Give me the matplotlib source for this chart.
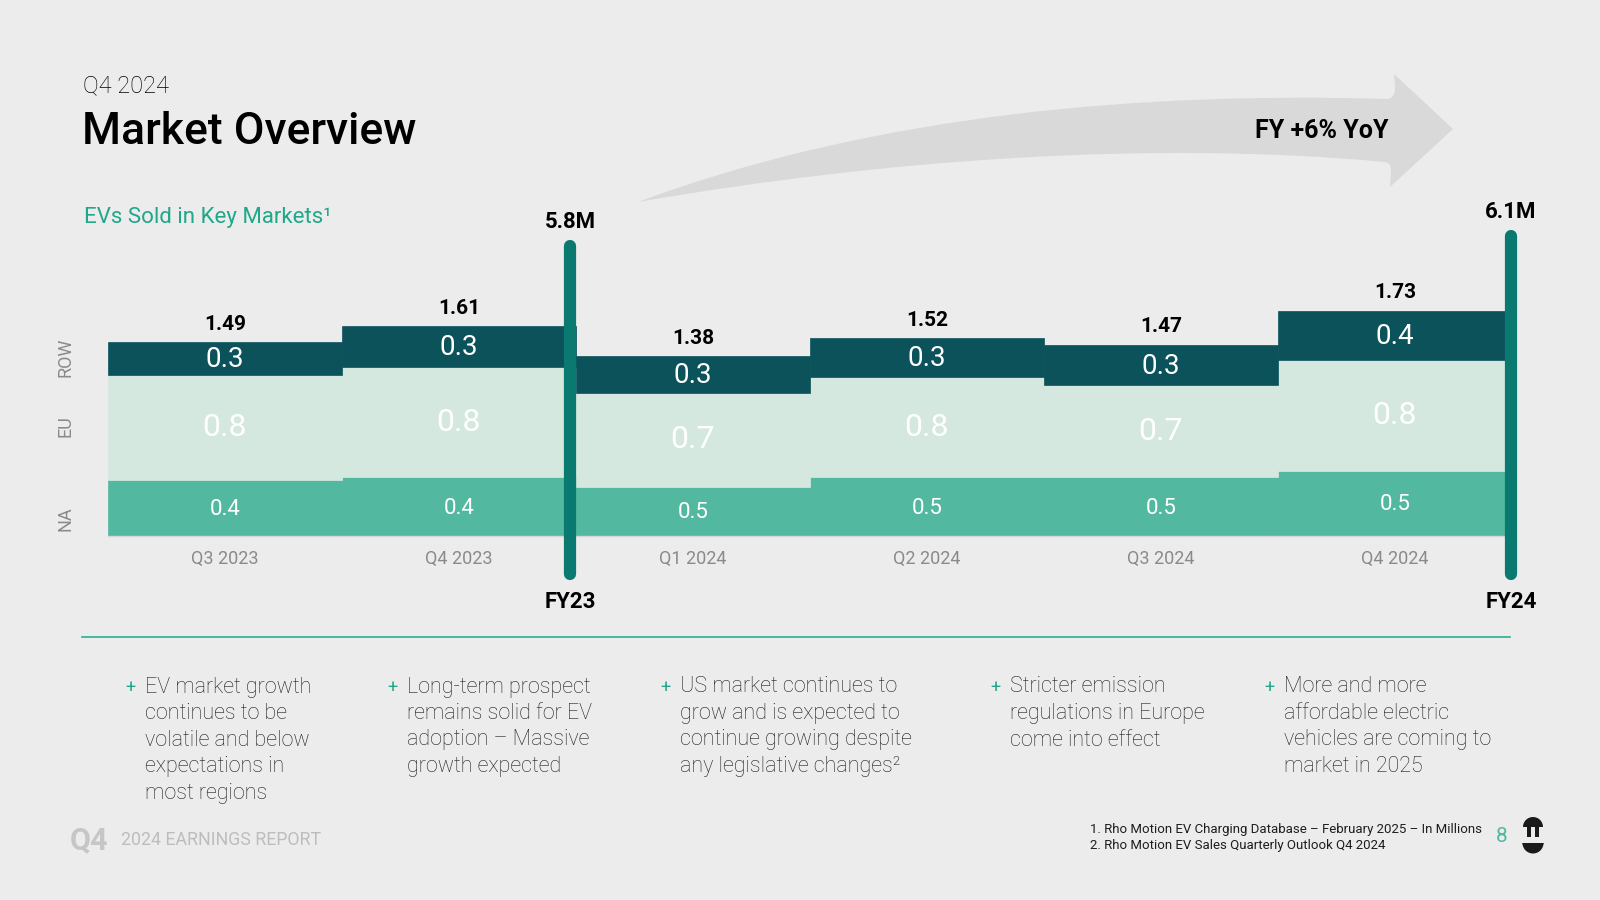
import matplotlib
matplotlib.use("Agg")
import matplotlib.pyplot as plt
import numpy as np
from matplotlib.path import Path
from matplotlib.patches import PathPatch, Wedge, Rectangle, Ellipse, Circle

# data (millions of EVs)
quarters = ["Q3 2023", "Q4 2023", "Q1 2024", "Q2 2024", "Q3 2024", "Q4 2024"]
na = [0.43, 0.45, 0.38, 0.45, 0.45, 0.50]
eu = [0.81, 0.85, 0.72, 0.77, 0.71, 0.85]
row = [0.25, 0.31, 0.28, 0.30, 0.31, 0.38]
na_labels = ["0.4", "0.4", "0.5", "0.5", "0.5", "0.5"]
eu_labels = ["0.8", "0.8", "0.7", "0.8", "0.7", "0.8"]
row_labels = ["0.3", "0.3", "0.3", "0.3", "0.3", "0.4"]
totals = ["1.49", "1.61", "1.38", "1.52", "1.47", "1.73"]
fy_names = ["FY23", "FY24"]
fy_totals = ["5.8M", "6.1M"]
fy_after = [2, 6]          # FY marker sits after this many quarters

bullets = [
    ["EV market growth", "continues to be", "volatile and below", "expectations in", "most regions"],
    ["Long-term prospect", "remains solid for EV", "adoption \u2013 Massive", "growth expected"],
    ["US market continues to", "grow and is expected to", "continue growing despite", "any legislative changes\u00b2"],
    ["Stricter emission", "regulations in Europe", "come into effect"],
    ["More and more", "affordable electric", "vehicles are coming to", "market in 2025"],
]
footnotes = ["1. Rho Motion EV Charging Database \u2013 February 2025 \u2013 In Millions",
             "2. Rho Motion EV Sales Quarterly Outlook Q4 2024"]

BG = "#ECECEC"
C_NA = "#52B9A0"
C_EU = "#D4E8DF"
C_ROW = "#0C525B"
C_FY = "#0A7A70"
TEAL = "#1FA88A"
INK = "#1A1A1A"

plt.rcParams["font.family"] = ["Roboto", "DejaVu Sans"]

W, H = 1600, 900
fig = plt.figure(figsize=(16, 9), dpi=100, facecolor=BG)


def fx(x):
    return x / W


def fy(y):
    return 1 - y / H


def ftext(x, y, s, **kw):
    fig.text(fx(x), fy(y), s, **kw)


def px(x, y):
    # pixel position (from top-left) -> inches for dpi_scale_trans
    return (x / 100, (H - y) / 100)


# curved arrow in the header
verts = [
    (638, 202),
    (880, 112), (1150, 92), (1388, 99),
    (1396, 98), (1395, 85),
    (1394, 74),
    (1453, 129),
    (1390, 187),
    (1391, 172),
    (1392, 163), (1385, 162),
    (1150, 140), (880, 160), (638, 202),
]
codes = [Path.MOVETO,
         Path.CURVE4, Path.CURVE4, Path.CURVE4,
         Path.CURVE3, Path.CURVE3,
         Path.LINETO, Path.LINETO, Path.LINETO, Path.LINETO,
         Path.CURVE3, Path.CURVE3,
         Path.CURVE4, Path.CURVE4, Path.CURVE4]
arrow = Path([(fx(a), fy(b)) for a, b in verts], codes)
fig.patches.append(PathPatch(arrow, transform=fig.transFigure, facecolor="#D9D9D9",
                             edgecolor="none", zorder=0))
ftext(1322, 131, "FY +6% YoY", fontsize=18, fontweight="bold", ha="center", va="center")

# header
ftext(83, 86, "Q4 2024", fontsize=17, fontweight="light", va="center")
ftext(82, 132, "Market Overview", fontsize=32, fontweight="medium", va="center")
ftext(84, 217, "EVs Sold in Key Markets\u00b9", fontsize=16, color=TEAL, va="center")

# chart
left, right = 108, 1512
base, unit = 536, 130.2
ymin, ymax = -0.5, 2.5
ax = fig.add_axes([fx(left), fy(base - ymin * unit), (right - left) / W, (ymax - ymin) * unit / H])
ax.set_facecolor("none")
ax.set_xlim(0, 6)
ax.set_ylim(ymin, ymax)
ax.axis("off")

x = np.arange(len(quarters))
na_a, eu_a, row_a = np.array(na), np.array(eu), np.array(row)
ax.bar(x, na_a, width=1, align="edge", color=C_NA, edgecolor=C_NA, linewidth=0.5)
ax.bar(x, eu_a, width=1, bottom=na_a, align="edge", color=C_EU, edgecolor=C_EU, linewidth=0.5)
ax.bar(x, row_a, width=1, bottom=na_a + eu_a, align="edge", color=C_ROW, edgecolor=C_ROW, linewidth=0.5)
ax.axhline(0, color="#D6D6D6", lw=1)

for i in range(len(quarters)):
    ax.text(i + 0.5, na_a[i] / 2 - 0.01, na_labels[i], color="white", fontsize=16, ha="center", va="center")
    ax.text(i + 0.5, na_a[i] + eu_a[i] / 2, eu_labels[i], color="white", fontsize=23,
            ha="center", va="center")
    ax.text(i + 0.5, na_a[i] + eu_a[i] + row_a[i] / 2 - 0.01, row_labels[i], color="white", fontsize=20,
            ha="center", va="center")
    top = na_a[i] + eu_a[i] + row_a[i]
    ax.annotate(totals[i], (i + 0.5, top), xytext=(0, 6), textcoords="offset points",
                ha="center", va="bottom", fontsize=15, fontweight="bold")
    ax.text(i + 0.5, -0.18, quarters[i], color="#8A8A8A", fontsize=13, ha="center", va="center")

fy_tops = [2.226, 2.306]
fy_shift = [-0.025, -0.005]
for k in range(2):
    xp = fy_after[k] + fy_shift[k]
    ax.plot([xp, xp], [-0.29, fy_tops[k]], color=C_FY, lw=8.8, solid_capstyle="round",
            zorder=5, clip_on=False)
    ax.annotate(fy_totals[k], (xp, fy_tops[k] + 0.047), xytext=(0, 5), textcoords="offset points",
                ha="center", va="bottom", fontsize=16, fontweight="bold", annotation_clip=False)
    ax.annotate(fy_names[k], (xp, -0.335), xytext=(0, -8), textcoords="offset points",
                ha="center", va="top", fontsize=16, fontweight="bold", annotation_clip=False)

# region labels
for name, yy in [("ROW", 357), ("EU", 426), ("NA", 519)]:
    ftext(66, yy, name, rotation=90, fontsize=13, color="#8A8A8A",
          ha="center", va="center")

# separator
fig.add_artist(plt.Line2D([fx(82), fx(1510)], [fy(637), fy(637)], color="#2DAE92", lw=1.2))

# bullets
text_x = [145, 407, 680, 1010, 1284]
for col, lines in enumerate(bullets):
    ftext(text_x[col] - 15, 688, "+", fontsize=13, color=TEAL, ha="center", va="center")
    for j, line in enumerate(lines):
        ftext(text_x[col], 687 + j * 26.5, line, fontsize=15.5, fontweight="light",
              color="#1E1E1E", va="center")

# footer
ftext(70, 840, "Q4", fontsize=22, fontweight="bold", color="#C6C6C6", va="center")
ftext(121, 840, "2024 EARNINGS REPORT", fontsize=12.8, color="#BDBDBD", va="center")
ftext(1090, 829, footnotes[0], fontsize=9.5, color="#1E1E1E", va="center")
ftext(1090, 845, footnotes[1], fontsize=9.5, color="#1E1E1E", va="center")
ftext(1502, 836, "8", fontsize=15, color="#52B9A0", ha="center", va="center")

# logo
T = fig.dpi_scale_trans
lx = 1533
fig.patches.append(Wedge(px(lx, 827), 0.10, 0, 180, transform=T, facecolor=INK, edgecolor="none"))
for dx in (-4, 4):
    fig.patches.append(Rectangle(px(lx + dx - 2, 838), 0.04, 0.11, transform=T,
                                 facecolor=INK, edgecolor="none"))
fig.patches.append(Wedge(px(lx, 843), 0.105, 180, 360, transform=T, facecolor=INK, edgecolor="none"))
fig.patches.append(Ellipse(px(lx, 855.5), 0.21, 0.25, transform=T, facecolor=INK, edgecolor="none", alpha=0))
for dx in (-5.5, 5.5):
    fig.patches.append(Circle(px(lx + dx, 843), 0.05, transform=T, facecolor=INK, edgecolor="none"))
fig.patches.append(Rectangle(px(lx - 12, 843), 0.24, 0.06, transform=T, facecolor=BG, edgecolor="none"))

fig.savefig("out.png", dpi=100, facecolor=BG)
